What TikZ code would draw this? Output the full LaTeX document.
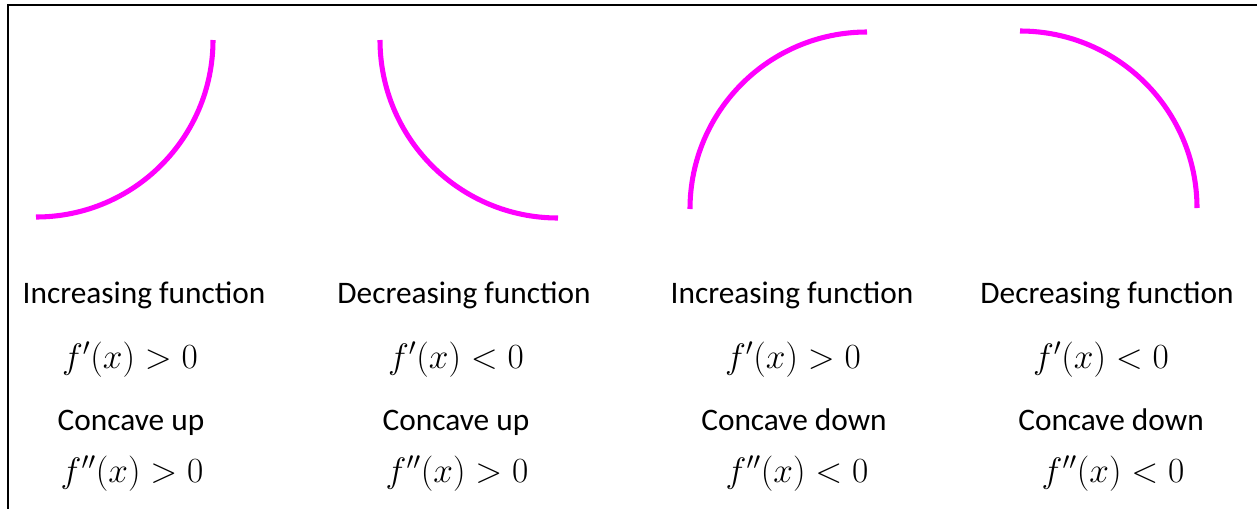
\RequirePackage{fix-cm}
\documentclass[tikz,border=0pt]{standalone}
\usepackage{fontspec}
\setmainfont{Carlito}
\begin{document}
\begin{tikzpicture}[x=0.75pt,y=-0.75pt,
  curve/.style={draw={rgb,255:red,255;green,0;blue,255},line width=3.8pt},
  lbl/.style={anchor=base,inner sep=0pt,font=\fontsize{23.5}{28}\selectfont},
  mth/.style={anchor=base,inner sep=0pt,font=\fontsize{26.5}{30}\selectfont},
  frame/.style={draw=black,line width=1.6pt}]
\useasboundingbox (0,0) rectangle (1257,508);
% frame (top and left edges)
\coordinate (fbl) at (8,510);
\coordinate (ftl) at (8,5);
\coordinate (ftr) at (1259,5);
\draw[frame] (fbl) -- (ftl) -- (ftr);
% curves
\coordinate (a1s) at (36,217);
\draw[curve] (a1s) arc[start angle=90,end angle=0,radius=177];
\coordinate (a2s) at (380,40);
\draw[curve] (a2s) arc[start angle=180,end angle=90,radius=178];
\coordinate (a3s) at (690,209);
\draw[curve] (a3s) arc[start angle=180,end angle=270,radius=177];
\coordinate (a4s) at (1020,31);
\draw[curve] (a4s) arc[start angle=270,end angle=360,radius=177];
% labels column 1
\node[lbl] (t11) at (144,303) {Increasing function};
\node[mth] (t12) at (130,368) {$f'(x)>0$};
\node[lbl] (t13) at (131,430) {Concave up};
\node[mth] (t14) at (132,482) {$f''(x)>0$};
% column 2
\node[lbl] (t21) at (464,303) {Decreasing function};
\node[mth] (t22) at (456,368) {$f'(x)<0$};
\node[lbl] (t23) at (456,430) {Concave up};
\node[mth] (t24) at (457,482) {$f''(x)>0$};
% column 3
\node[lbl] (t31) at (792,303) {Increasing function};
\node[mth] (t32) at (793,368) {$f'(x)>0$};
\node[lbl] (t33) at (794,430) {Concave down};
\node[mth] (t34) at (797,482) {$f''(x)<0$};
% column 4
\node[lbl] (t41) at (1107,303) {Decreasing function};
\node[mth] (t42) at (1101,368) {$f'(x)<0$};
\node[lbl] (t43) at (1111,430) {Concave down};
\node[mth] (t44) at (1113,482) {$f''(x)<0$};
\end{tikzpicture}
\end{document}
